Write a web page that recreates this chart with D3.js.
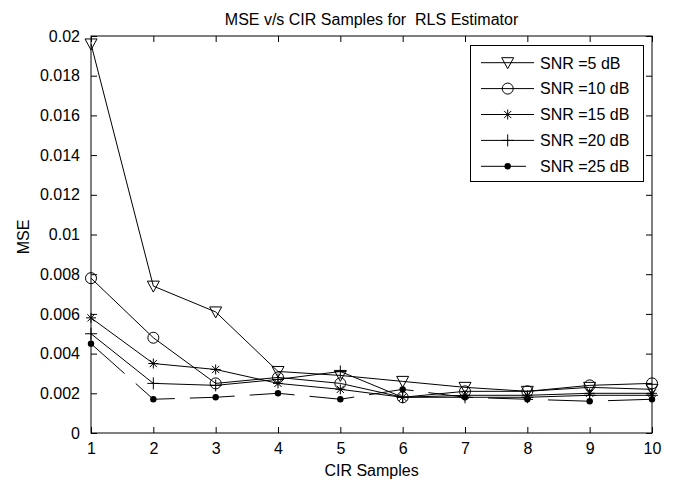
<!DOCTYPE html>
<html><head><meta charset="utf-8">
<script src="https://cdn.jsdelivr.net/npm/d3@7"></script>
<style>body{margin:0;background:#fff}svg{display:block}text{font-family:"Liberation Sans",Arial,sans-serif;fill:#000}</style>
</head><body>
<svg id="c" width="675" height="483"></svg>
<script>
const samples = [1,2,3,4,5,6,7,8,9,10];
const snr5  = [0.0196, 0.0074, 0.0061, 0.0031, 0.0029, 0.0026, 0.0023, 0.0021, 0.0023, 0.0022];
const snr10 = [0.0078, 0.0048, 0.0025, 0.0028, 0.0025, 0.0018, 0.0021, 0.0021, 0.0024, 0.0025];
const snr15 = [0.0058, 0.0035, 0.0032, 0.0025, 0.0022, 0.0018, 0.0019, 0.0019, 0.0020, 0.0020];
const snr20 = [0.0050, 0.0025, 0.0024, 0.0027, 0.0031, 0.0018, 0.0018, 0.0018, 0.0019, 0.0019];
const snr25 = [0.0045, 0.0017, 0.0018, 0.0020, 0.0017, 0.0022, 0.0018, 0.0017, 0.0016, 0.0017];
const seriesNames = ["SNR =5 dB","SNR =10 dB","SNR =15 dB","SNR =20 dB","SNR =25 dB"];
const markers = ["tri","circle","star","plus","dot"];
const yTicks = [0,0.002,0.004,0.006,0.008,0.01,0.012,0.014,0.016,0.018,0.02];
const yTickLabels = ["0","0.002","0.004","0.006","0.008","0.01","0.012","0.014","0.016","0.018","0.02"];
const xTicks = [1,2,3,4,5,6,7,8,9,10];
const title = "MSE v/s CIR Samples for  RLS Estimator";
const xTitle = "CIR Samples", yTitle = "MSE";

const series = [snr5, snr10, snr15, snr20, snr25].map((v,i)=>({name:seriesNames[i], marker:markers[i], values:v, dashed:i===4}));

const L=91, R=652, T=36, B=433;
const svg = d3.select("#c");
const x = d3.scaleLinear().domain([1,10]).range([L,R]);
const y = d3.scaleLinear().domain([0,0.02]).range([B,T]);
const FS = 16;

// axes (inward ticks on all sides)
const tl = 6;
svg.append("g").attr("transform",`translate(0,${B})`)
  .call(d3.axisBottom(x).tickValues(xTicks).tickSizeInner(-tl).tickSizeOuter(0).tickPadding(10).tickFormat(d3.format("d")))
  .call(g=>{g.select(".domain").remove();g.selectAll("text").attr("font-size",FS).attr("font-family","Liberation Sans, Arial");g.selectAll("line").attr("stroke","#000");});
svg.append("g").attr("transform",`translate(0,${T})`)
  .call(d3.axisTop(x).tickValues(xTicks).tickSizeInner(-tl).tickSizeOuter(0).tickFormat(""))
  .call(g=>{g.select(".domain").remove();g.selectAll("line").attr("stroke","#000");});
svg.append("g").attr("transform",`translate(${L},0)`)
  .call(d3.axisLeft(y).tickValues(yTicks).tickSizeInner(-tl).tickSizeOuter(0).tickPadding(11).tickFormat((d,i)=>yTickLabels[i]))
  .call(g=>{g.select(".domain").remove();g.selectAll("text").attr("font-size",FS).attr("font-family","Liberation Sans, Arial");g.selectAll("line").attr("stroke","#000");});
svg.append("g").attr("transform",`translate(${R},0)`)
  .call(d3.axisRight(y).tickValues(yTicks).tickSizeInner(-tl).tickSizeOuter(0).tickFormat(""))
  .call(g=>{g.select(".domain").remove();g.selectAll("line").attr("stroke","#000");});
svg.append("rect").attr("x",L).attr("y",T).attr("width",R-L).attr("height",B-T)
  .attr("fill","none").attr("stroke","#000").attr("stroke-width",1);

// titles
svg.append("text").attr("x",(L+R)/2).attr("y",25).attr("text-anchor","middle").attr("font-size",FS)
  .style("white-space","pre").attr("xml:space","preserve").text(title);
svg.append("text").attr("x",(L+R)/2).attr("y",476).attr("text-anchor","middle").attr("font-size",FS).text(xTitle);
svg.append("text").attr("transform","translate(29,237) rotate(-90)").attr("text-anchor","middle").attr("font-size",FS).text(yTitle);

function drawMarker(g, type, cx, cy){
  if(type==="tri"){
    g.append("path").attr("d",`M${cx-6},${cy-5}L${cx+6},${cy-5}L${cx},${cy+6}Z`).attr("fill","none").attr("stroke","#000");
  } else if(type==="circle"){
    g.append("circle").attr("cx",cx).attr("cy",cy).attr("r",5.5).attr("fill","none").attr("stroke","#000");
  } else if(type==="star"){
    const r=5, d=3.6;
    g.append("path").attr("d",`M${cx-r},${cy}L${cx+r},${cy}M${cx},${cy-r}L${cx},${cy+r}M${cx-d},${cy-d}L${cx+d},${cy+d}M${cx-d},${cy+d}L${cx+d},${cy-d}`).attr("stroke","#000").attr("fill","none");
  } else if(type==="plus"){
    const r=6;
    g.append("path").attr("d",`M${cx-r},${cy}L${cx+r},${cy}M${cx},${cy-r}L${cx},${cy+r}`).attr("stroke","#000").attr("fill","none");
  } else {
    g.append("circle").attr("cx",cx).attr("cy",cy).attr("r",3.2).attr("fill","#000");
  }
}

const line = d3.line().x((d,i)=>x(samples[i])).y(d=>y(d));
const plot = svg.append("g");
series.forEach(s=>{
  plot.append("path").attr("d",line(s.values)).attr("fill","none").attr("stroke","#000").attr("stroke-width",1)
    .attr("stroke-dasharray", s.dashed ? "45,15" : null);
  s.values.forEach((v,i)=>drawMarker(plot, s.marker, x(samples[i]), y(v)));
});

// legend
const lg = svg.append("g");
lg.append("rect").attr("x",470.5).attr("y",45.5).attr("width",173).attr("height",136).attr("fill","#fff").attr("stroke","#000");
series.forEach((s,i)=>{
  const cy = 62.7 + i*25.9;
  lg.append("line").attr("x1",481).attr("x2",534).attr("y1",cy).attr("y2",cy).attr("stroke","#000")
    .attr("stroke-dasharray", s.dashed ? "45,15" : null);
  drawMarker(lg, s.marker, 507.7, cy);
  lg.append("text").attr("x",540).attr("y",cy+5.8).attr("font-size",FS).text(s.name);
});
</script>
</body></html>
